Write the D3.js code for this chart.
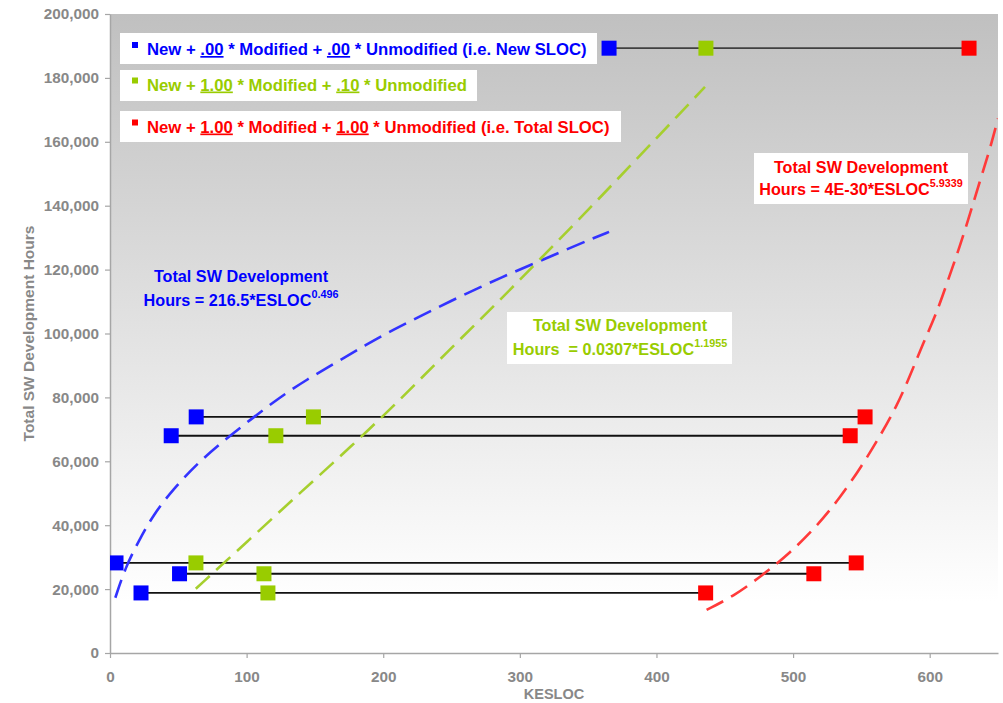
<!DOCTYPE html>
<html>
<head>
<meta charset="utf-8">
<script src="https://cdn.jsdelivr.net/npm/d3@7"></script>
<style>
  body { margin: 0; background: #fff; }
  text { font-family: Arial, "Liberation Sans", sans-serif; font-weight: bold; white-space: pre; }
</style>
</head>
<body>
<svg id="chart" width="1003" height="703"></svg>
<script>
// Six projects, each sized three ways (same hours, different KESLOC)
const totalHours = [189300, 73900, 68000, 28200, 24800, 18800];
const newKsloc   = [365.3, 63.1, 44.8, 4.4, 50.9, 22.7];     // New SLOC only
const equivKsloc = [436.2, 148.9, 121.4, 62.9, 112.7, 115.6]; // New + 1.0*Mod + .1*Unmod
const totalKsloc = [628.8, 552.7, 541.8, 546.2, 515.2, 436.0]; // Total SLOC

// Trend curves
const blueTrendK = [3.9, 11.2, 20.7, 31.7, 46.3, 63.9, 82.2, 102.7, 123.2, 144.4, 166.3, 186.8, 207.3, 228.5, 249, 271, 291.4, 312.6, 333, 353.6, 365.3];
const blueTrendH = [17300, 26700, 34800, 43300, 51300, 59300, 66100, 73000, 79700, 85700, 91100, 96300, 101200, 105700, 110100, 114500, 118500, 122300, 126100, 129800, 131800];
const greenTrendK = [62.8, 101.8, 139.6, 176.2, 212.7, 246.7, 281.9, 316, 349.9, 383.9, 417.9, 435.5];
const greenTrendH = [20100, 35400, 50300, 64500, 79400, 94200, 108900, 123800, 138600, 153900, 169200, 177200];
const redTrendK = [436.7, 456.2, 478.1, 497.7, 517.2, 534.2, 550.1, 563.5, 575.7, 585.4, 595.2, 605, 613.5, 622, 629.3, 636.6, 643.9, 650];
const redTrendH = [13500, 17700, 24500, 31300, 39600, 48500, 58400, 67800, 77100, 86500, 97000, 106300, 116800, 127200, 137100, 147500, 157400, 167300];

const xTicks = [0, 100, 200, 300, 400, 500, 600];
const yTicks = [0, 20000, 40000, 60000, 80000, 100000, 120000, 140000, 160000, 180000, 200000];

const BLUE = '#0000ff', GREEN = '#99cc00', RED = '#ff0000', GREY = '#888888';

const svg = d3.select('#chart');
const margin = { top: 14, right: 5, bottom: 50, left: 110 };
const W = 1003, H = 703;

const x = d3.scaleLinear().domain([0, 650]).range([margin.left, W - margin.right]);
const y = d3.scaleLinear().domain([0, 200000]).range([H - margin.bottom, margin.top]);

// plot background: grey fading to white
const defs = svg.append('defs');
const grad = defs.append('linearGradient').attr('id', 'bg').attr('x1', 0).attr('y1', 0).attr('x2', 0).attr('y2', 1);
grad.append('stop').attr('offset', 0).attr('stop-color', '#c0c0c0');
grad.append('stop').attr('offset', 0.92).attr('stop-color', '#ffffff');
defs.append('clipPath').attr('id', 'plotclip').append('rect')
  .attr('x', x(0)).attr('y', y(200000)).attr('width', x(650) - x(0)).attr('height', y(0) - y(200000));

svg.append('rect')
  .attr('x', x(0)).attr('y', y(200000))
  .attr('width', x(650) - x(0)).attr('height', y(0) - y(200000))
  .attr('fill', 'url(#bg)');

// ── axes ──
const yAxis = svg.append('g')
  .attr('transform', `translate(${x(0)},0)`)
  .call(d3.axisLeft(y).tickValues(yTicks).tickSize(5).tickSizeOuter(0).tickPadding(6).tickFormat(d3.format(',')));
const xAxis = svg.append('g')
  .attr('transform', `translate(0,${y(0)})`)
  .call(d3.axisBottom(x).tickValues(xTicks).tickSize(5).tickSizeOuter(0).tickPadding(13));

[yAxis, xAxis].forEach(a => {
  a.select('.domain').attr('stroke', '#a6a6a6').attr('stroke-width', 1.5);
  a.selectAll('.tick line').attr('stroke', '#a6a6a6').attr('stroke-width', 1.2);
  a.selectAll('.tick text').attr('fill', GREY).style('font-size', '15.3px')
    .style('font-family', 'Arial, "Liberation Sans", sans-serif').style('font-weight', 'bold');
});

svg.append('text')
  .attr('x', (x(0) + x(650)) / 2).attr('y', 699)
  .attr('text-anchor', 'middle').attr('fill', GREY).style('font-size', '14.5px')
  .text('KESLOC');

svg.append('text')
  .attr('transform', `translate(34,${(y(0) + y(200000)) / 2}) rotate(-90)`)
  .attr('text-anchor', 'middle').attr('fill', GREY).style('font-size', '15.5px')
  .text('Total SW Development Hours');

// ── data ──
const plot = svg.append('g').attr('clip-path', 'url(#plotclip)');

plot.append('g').selectAll('line')
  .data(totalHours)
  .join('line')
  .attr('x1', (d, i) => x(newKsloc[i])).attr('x2', (d, i) => x(totalKsloc[i]))
  .attr('y1', d => y(d)).attr('y2', d => y(d))
  .attr('stroke', (d, i) => i === 0 ? '#404040' : '#111')
  .attr('stroke-width', 1.8);

const trendLine = d3.line().x(d => x(d[0])).y(d => y(d[1])).curve(d3.curveBasis);
const trends = [
  { k: blueTrendK, h: blueTrendH, color: '#3333ff' },
  { k: greenTrendK, h: greenTrendH, color: '#a6cf2e' },
  { k: redTrendK, h: redTrendH, color: '#ff3a3a' },
];
plot.append('g').selectAll('path')
  .data(trends)
  .join('path')
  .attr('d', t => trendLine(t.k.map((k, i) => [k, t.h[i]])))
  .attr('fill', 'none')
  .attr('stroke', t => t.color)
  .attr('stroke-width', 2.6)
  .attr('stroke-dasharray', '19,9');

const series = [
  { ks: newKsloc, color: BLUE },
  { ks: equivKsloc, color: GREEN },
  { ks: totalKsloc, color: RED },
];
const S = 15;
series.forEach(s => {
  plot.append('g').selectAll('rect')
    .data(totalHours)
    .join('rect')
    .attr('x', (d, i) => x(s.ks[i]) - S / 2)
    .attr('y', d => y(d) - S / 2)
    .attr('width', S).attr('height', S)
    .attr('fill', s.color);
});

// ── legend boxes ──
const legendRows = [
  { color: BLUE, top: 33, w: 477, base: 55,
    parts: [['New + ', 0], ['.00', 1], [' * Modified + ', 0], ['.00', 1], [' * Unmodified (i.e. New SLOC)', 0]] },
  { color: GREEN, top: 70, w: 357, base: 90.5,
    parts: [['New + ', 0], ['1.00', 1], [' * Modified + ', 0], ['.10', 1], [' * Unmodified', 0]] },
  { color: RED, top: 111, w: 501, base: 132.5,
    parts: [['New + ', 0], ['1.00', 1], [' * Modified + ', 0], ['1.00', 1], [' * Unmodified (i.e. Total SLOC)', 0]] },
];
legendRows.forEach(r => {
  const g = svg.append('g');
  g.append('rect').attr('x', 120).attr('y', r.top).attr('width', r.w).attr('height', 31).attr('fill', '#fff');
  g.append('rect').attr('x', 132).attr('y', r.base - 13).attr('width', 6).attr('height', 6).attr('fill', r.color);
  const t = g.append('text').attr('x', 147).attr('y', r.base).attr('fill', r.color).style('font-size', '16.7px');
  r.parts.forEach(p => {
    t.append('tspan').text(p[0]).style('text-decoration', p[1] ? 'underline' : null);
  });
});

// ── fit equations ──
const notes = [
  { color: BLUE, cx: 241, b1: 282, b2: 305.5, box: null,
    eq: 'Hours = 216.5*ESLOC', exp: '0.496' },
  { color: GREEN, cx: 620, b1: 331, b2: 355, box: [507, 312, 225, 52],
    eq: 'Hours  = 0.0307*ESLOC', exp: '1.1955' },
  { color: RED, cx: 861, b1: 172.5, b2: 195, box: [754, 153, 214, 51],
    eq: 'Hours = 4E-30*ESLOC', exp: '5.9339' },
];
notes.forEach(n => {
  const g = svg.append('g');
  if (n.box) g.append('rect').attr('x', n.box[0]).attr('y', n.box[1])
    .attr('width', n.box[2]).attr('height', n.box[3]).attr('fill', '#fff');
  g.append('text').attr('x', n.cx).attr('y', n.b1).attr('text-anchor', 'middle')
    .attr('fill', n.color).style('font-size', '16.2px').text('Total SW Development');
  const t = g.append('text').attr('x', n.cx).attr('y', n.b2).attr('text-anchor', 'middle')
    .attr('fill', n.color).style('font-size', '16.2px');
  t.append('tspan').text(n.eq);
  t.append('tspan').attr('dy', -8).style('font-size', '10.8px').text(n.exp);
});
</script>
</body>
</html>
